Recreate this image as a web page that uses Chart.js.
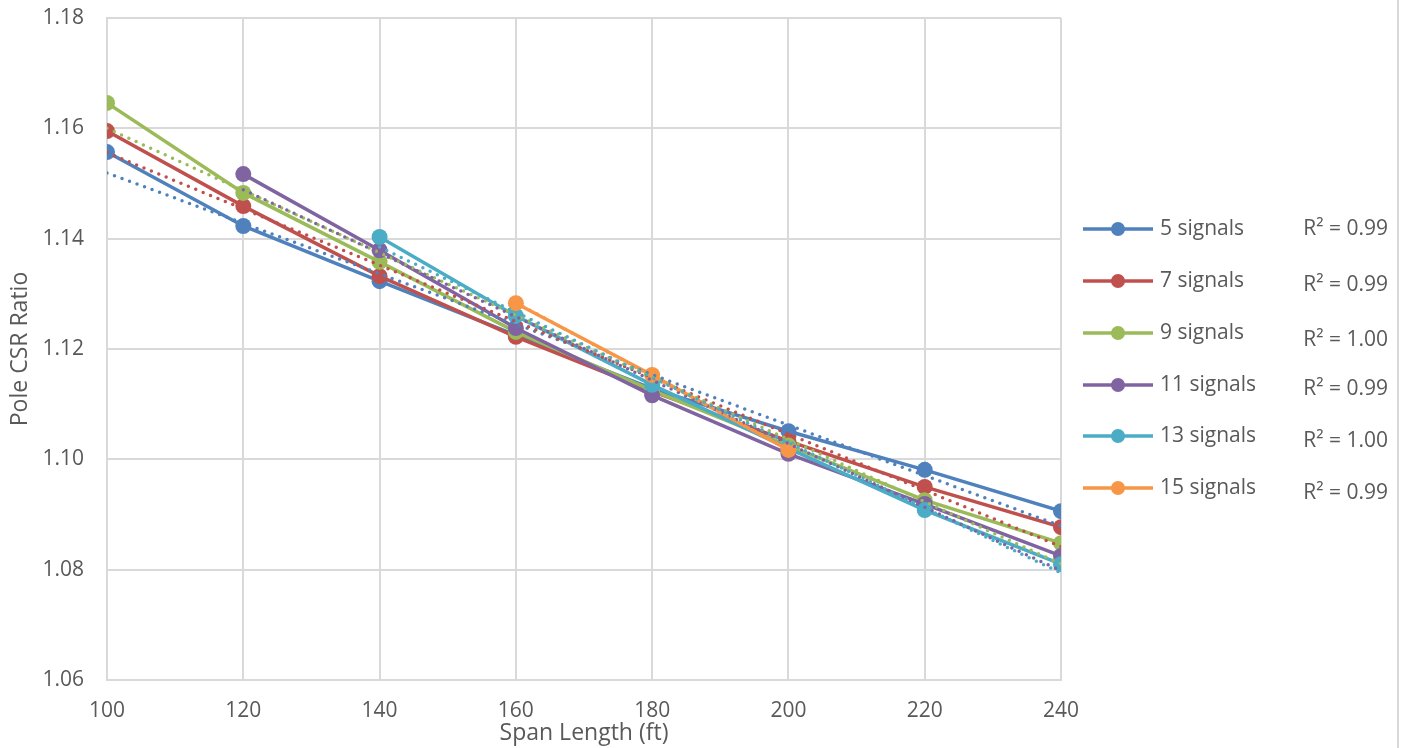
<!DOCTYPE html>
<html><head><meta charset="utf-8">
<script src="https://cdn.jsdelivr.net/npm/chart.js@4.4.0/dist/chart.umd.min.js"></script>
<style>html,body{margin:0;padding:0;background:#fff;}#wrap{position:relative;width:1409px;height:748px;}</style>
</head><body><div id="wrap"><canvas id="c" width="1409" height="748"></canvas></div>
<script>
const spanLengths = [100,120,140,160,180,200,220,240];
const seriesNames = ['5 signals','7 signals','9 signals','11 signals','13 signals','15 signals'];
const s5  = [1.1557,1.1423,1.1323,1.1225,1.1128,1.1051,1.0981,1.0906];
const s7  = [1.1595,1.1459,1.1332,1.1222,1.1123,1.1033,1.0950,1.0877];
const s9  = [1.1646,1.1483,1.1358,1.1231,1.1125,1.1025,1.0926,1.0848];
const s11 = [null,1.1517,1.1379,1.1238,1.1116,1.1010,1.0919,1.0825];
const s13 = [null,null,1.1403,1.1260,1.1135,1.1020,1.0908,1.0810];
const s15 = [null,null,null,1.1283,1.1153,1.1017,null,null];
const rSquaredLabels = ['R\u00b2 = 0.99','R\u00b2 = 0.99','R\u00b2 = 1.00','R\u00b2 = 0.99','R\u00b2 = 1.00','R\u00b2 = 0.99'];
const yTicks = [1.06,1.08,1.10,1.12,1.14,1.16,1.18];
const colors = ['#4f81bd','#c0504d','#9bbb59','#8064a2','#4bacc6','#f79646'];
const allSeries = [s5,s7,s9,s11,s13,s15];

const FONT = "'Open Sans', 'DejaVu Sans', sans-serif";
const TXT = '#595959';

function pts(arr){ return spanLengths.map((x,i)=>({x, y:arr[i]})).filter(p=>p.y!==null); }
function trend(arr){
  const p = pts(arr); const n=p.length;
  const mx = p.reduce((a,b)=>a+b.x,0)/n, my = p.reduce((a,b)=>a+b.y,0)/n;
  let sxy=0,sxx=0; p.forEach(q=>{sxy+=(q.x-mx)*(q.y-my); sxx+=(q.x-mx)*(q.x-mx);});
  const m=sxy/sxx, b=my-m*mx;
  const x0=p[0].x, x1=p[n-1].x;
  return [{x:x0,y:m*x0+b},{x:x1,y:m*x1+b}];
}

const datasets = [];
allSeries.forEach((arr,i)=>{
  datasets.push({label:seriesNames[i], data:pts(arr), borderColor:colors[i], backgroundColor:colors[i],
    borderWidth:3.5, pointRadius:8, pointHoverRadius:8, pointBorderWidth:0, showLine:true, order:-i, tension:0});
});
allSeries.forEach((arr,i)=>{
  datasets.push({label:'trend '+seriesNames[i], data:trend(arr), borderColor:colors[i], backgroundColor:colors[i],
    borderWidth:3.5, borderDash:[0,8], borderCapStyle:'round', pointRadius:0, showLine:true, order:-100-i, tension:0});
});

const legendPlugin = {
  id:'customLegend',
  afterDraw(chart){
    const ctx = chart.ctx;
    ctx.save();
    ctx.strokeStyle='#d9d9d9'; ctx.lineWidth=2;
    ctx.beginPath(); ctx.moveTo(1398,0); ctx.lineTo(1398,748); ctx.stroke();
    const ys=[229,281,333,385,436,488];
    const ry=[229,285,340,389,441,493];
    ctx.font = "21px " + FONT; ctx.textBaseline='middle';
    seriesNames.forEach((name,i)=>{
      ctx.strokeStyle=colors[i]; ctx.lineWidth=3.5;
      ctx.beginPath(); ctx.moveTo(1083,ys[i]); ctx.lineTo(1153,ys[i]); ctx.stroke();
      ctx.fillStyle=colors[i]; ctx.beginPath(); ctx.arc(1118,ys[i],7,0,Math.PI*2); ctx.fill();
      ctx.fillStyle=TXT; ctx.textAlign='left'; ctx.fillText(name,1160,ys[i]);
      ctx.textAlign='right'; ctx.fillText(rSquaredLabels[i],1388,ry[i]);
    });
    ctx.restore();
  }
};

new Chart(document.getElementById('c'), {
  type:'scatter',
  data:{datasets},
  options:{
    responsive:false, animation:false, devicePixelRatio:1,
    layout:{padding:{top:18,right:348,left:0,bottom:0}},
    plugins:{legend:{display:false}, tooltip:{enabled:false}},
    scales:{
      x:{type:'linear', min:100, max:240,
        afterBuildTicks(s){ s.ticks = spanLengths.map(v=>({value:v})); },
        afterFit(s){ s.height=68; s.paddingLeft=0; s.paddingRight=0; },
        grid:{color:'#d9d9d9', lineWidth:2, drawTicks:false},
        border:{color:'#d9d9d9', width:2},
        ticks:{padding:18, color:TXT, font:{family:FONT,size:21}, maxRotation:0},
        title:{display:true, text:'Span Length (ft)', color:TXT, font:{family:FONT,size:23}, padding:{top:0,bottom:1}}
      },
      y:{type:'linear', min:1.06, max:1.18,
        afterBuildTicks(s){ s.ticks = yTicks.map(v=>({value:v})); },
        afterFit(s){ s.width=107; s.paddingTop=0; s.paddingBottom=0; },
        grid:{color:'#d9d9d9', lineWidth:2, drawTicks:false},
        border:{color:'#d9d9d9', width:2},
        ticks:{padding:23, color:TXT, font:{family:FONT,size:21}, callback:v=>v.toFixed(2)},
        title:{display:true, text:'Pole CSR Ratio', color:TXT, font:{family:FONT,size:23}, padding:{top:7,bottom:0}}
      }
    }
  },
  plugins:[legendPlugin]
});
</script></body></html>
